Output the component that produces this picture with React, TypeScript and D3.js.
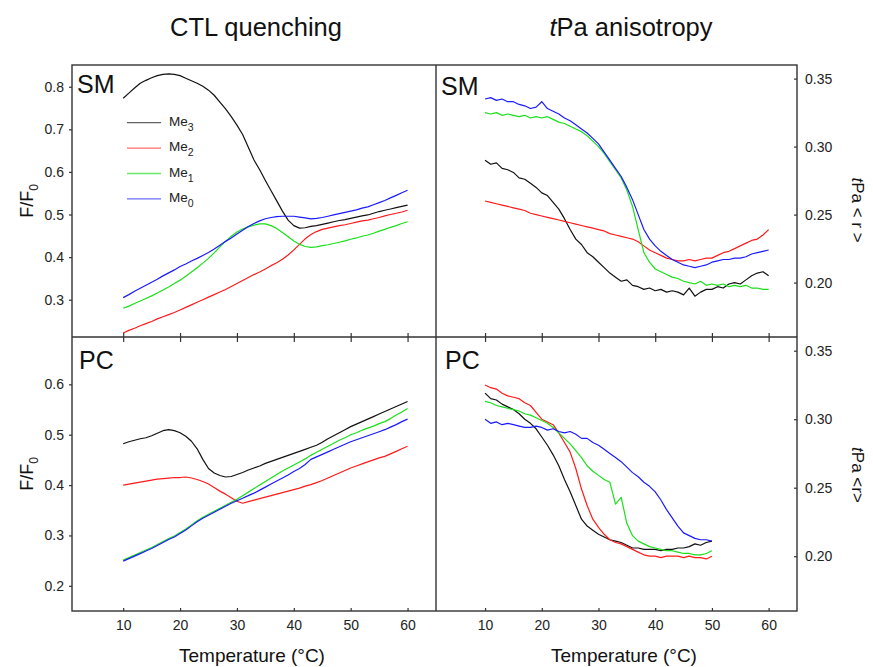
import { useRef, useEffect } from 'react';
import * as d3 from 'd3';

// temperature grid (°C)
const tempsFull = d3.range(10, 61);
const tempsShort = d3.range(10, 51);

// CTL quenching, SM (F/F0)
const smQuenchMe3 = [0.773, 0.785, 0.797, 0.808, 0.815, 0.821, 0.826, 0.829, 0.830, 0.829, 0.826, 0.820, 0.814, 0.808, 0.801, 0.792, 0.780, 0.764, 0.748, 0.730, 0.710, 0.688, 0.658, 0.628, 0.605, 0.580, 0.556, 0.532, 0.508, 0.487, 0.474, 0.468, 0.469, 0.472, 0.474, 0.477, 0.480, 0.483, 0.486, 0.488, 0.491, 0.494, 0.497, 0.499, 0.503, 0.507, 0.510, 0.513, 0.516, 0.519, 0.522];
const smQuenchMe2 = [0.222, 0.228, 0.233, 0.239, 0.244, 0.249, 0.255, 0.260, 0.265, 0.270, 0.276, 0.282, 0.288, 0.294, 0.300, 0.306, 0.312, 0.318, 0.324, 0.331, 0.338, 0.345, 0.352, 0.359, 0.365, 0.372, 0.380, 0.387, 0.395, 0.405, 0.417, 0.430, 0.443, 0.453, 0.460, 0.465, 0.468, 0.471, 0.474, 0.476, 0.479, 0.482, 0.485, 0.487, 0.490, 0.493, 0.497, 0.500, 0.503, 0.506, 0.510];
const smQuenchMe1 = [0.280, 0.285, 0.291, 0.297, 0.303, 0.309, 0.316, 0.323, 0.330, 0.338, 0.346, 0.355, 0.365, 0.375, 0.386, 0.397, 0.410, 0.424, 0.437, 0.449, 0.459, 0.466, 0.471, 0.475, 0.478, 0.478, 0.474, 0.467, 0.458, 0.448, 0.438, 0.430, 0.425, 0.423, 0.424, 0.427, 0.429, 0.432, 0.435, 0.438, 0.442, 0.445, 0.449, 0.452, 0.456, 0.461, 0.465, 0.470, 0.474, 0.479, 0.483];
const smQuenchMe0 = [0.305, 0.312, 0.320, 0.327, 0.334, 0.341, 0.348, 0.356, 0.363, 0.370, 0.378, 0.384, 0.391, 0.397, 0.404, 0.411, 0.419, 0.428, 0.437, 0.445, 0.454, 0.463, 0.472, 0.479, 0.485, 0.490, 0.493, 0.495, 0.496, 0.496, 0.496, 0.494, 0.492, 0.490, 0.491, 0.493, 0.496, 0.499, 0.502, 0.505, 0.508, 0.511, 0.515, 0.518, 0.523, 0.528, 0.533, 0.539, 0.545, 0.551, 0.557];

// CTL quenching, PC (F/F0)
const pcQuenchMe3 = [0.482, 0.486, 0.489, 0.492, 0.494, 0.498, 0.503, 0.508, 0.510, 0.508, 0.504, 0.497, 0.487, 0.472, 0.451, 0.433, 0.424, 0.419, 0.416, 0.417, 0.421, 0.425, 0.430, 0.434, 0.438, 0.443, 0.447, 0.451, 0.455, 0.459, 0.463, 0.467, 0.471, 0.475, 0.479, 0.485, 0.492, 0.498, 0.504, 0.510, 0.516, 0.521, 0.526, 0.531, 0.536, 0.541, 0.546, 0.551, 0.556, 0.561, 0.566];
const pcQuenchMe2 = [0.400, 0.402, 0.404, 0.406, 0.408, 0.410, 0.412, 0.413, 0.414, 0.415, 0.415, 0.416, 0.414, 0.411, 0.407, 0.402, 0.395, 0.388, 0.382, 0.375, 0.368, 0.364, 0.367, 0.370, 0.373, 0.376, 0.379, 0.382, 0.385, 0.388, 0.391, 0.394, 0.398, 0.401, 0.405, 0.409, 0.414, 0.419, 0.424, 0.429, 0.434, 0.438, 0.442, 0.446, 0.450, 0.454, 0.457, 0.462, 0.467, 0.472, 0.477];
const pcQuenchMe1 = [0.251, 0.256, 0.261, 0.266, 0.271, 0.276, 0.282, 0.288, 0.294, 0.299, 0.306, 0.313, 0.321, 0.329, 0.336, 0.342, 0.348, 0.354, 0.360, 0.366, 0.372, 0.379, 0.386, 0.393, 0.400, 0.407, 0.414, 0.421, 0.428, 0.434, 0.440, 0.446, 0.452, 0.459, 0.465, 0.471, 0.477, 0.483, 0.489, 0.494, 0.500, 0.504, 0.509, 0.513, 0.517, 0.522, 0.526, 0.532, 0.539, 0.545, 0.552];
const pcQuenchMe0 = [0.249, 0.254, 0.259, 0.264, 0.269, 0.274, 0.280, 0.286, 0.292, 0.297, 0.304, 0.311, 0.319, 0.327, 0.334, 0.340, 0.346, 0.352, 0.358, 0.364, 0.369, 0.374, 0.379, 0.384, 0.390, 0.396, 0.402, 0.408, 0.414, 0.420, 0.427, 0.433, 0.441, 0.451, 0.456, 0.461, 0.466, 0.471, 0.476, 0.481, 0.486, 0.490, 0.494, 0.498, 0.502, 0.506, 0.510, 0.515, 0.520, 0.526, 0.531];

// tPa anisotropy, SM (<r>)
const smAnisoMe3 = [0.290, 0.287, 0.288, 0.284, 0.283, 0.281, 0.277, 0.276, 0.273, 0.270, 0.266, 0.264, 0.259, 0.254, 0.247, 0.239, 0.232, 0.228, 0.222, 0.219, 0.215, 0.211, 0.207, 0.204, 0.201, 0.202, 0.198, 0.197, 0.195, 0.196, 0.194, 0.195, 0.193, 0.194, 0.193, 0.191, 0.196, 0.190, 0.193, 0.195, 0.195, 0.197, 0.196, 0.199, 0.200, 0.199, 0.202, 0.205, 0.207, 0.208, 0.205];
const smAnisoMe2 = [0.260, 0.259, 0.258, 0.257, 0.256, 0.255, 0.254, 0.253, 0.251, 0.250, 0.249, 0.248, 0.247, 0.246, 0.245, 0.244, 0.243, 0.242, 0.241, 0.240, 0.239, 0.238, 0.236, 0.235, 0.234, 0.233, 0.232, 0.230, 0.227, 0.224, 0.222, 0.220, 0.218, 0.217, 0.216, 0.216, 0.217, 0.216, 0.217, 0.218, 0.218, 0.220, 0.222, 0.223, 0.225, 0.227, 0.229, 0.231, 0.232, 0.235, 0.239];
const smAnisoMe1 = [0.325, 0.324, 0.325, 0.323, 0.324, 0.323, 0.322, 0.323, 0.321, 0.322, 0.321, 0.322, 0.320, 0.318, 0.317, 0.315, 0.313, 0.311, 0.308, 0.304, 0.300, 0.295, 0.289, 0.283, 0.277, 0.268, 0.256, 0.239, 0.222, 0.215, 0.210, 0.208, 0.206, 0.204, 0.203, 0.201, 0.200, 0.199, 0.201, 0.198, 0.199, 0.198, 0.199, 0.197, 0.198, 0.197, 0.198, 0.196, 0.196, 0.195, 0.195];
const smAnisoMe0 = [0.335, 0.336, 0.334, 0.335, 0.333, 0.333, 0.331, 0.330, 0.328, 0.329, 0.333, 0.328, 0.326, 0.324, 0.321, 0.319, 0.316, 0.313, 0.310, 0.306, 0.302, 0.296, 0.290, 0.284, 0.278, 0.270, 0.261, 0.250, 0.239, 0.232, 0.227, 0.223, 0.220, 0.217, 0.215, 0.213, 0.212, 0.211, 0.212, 0.213, 0.215, 0.216, 0.217, 0.217, 0.218, 0.218, 0.219, 0.221, 0.222, 0.223, 0.224];

// tPa anisotropy, PC (<r>), 10-50 °C
const pcAnisoMe3 = [0.319, 0.315, 0.314, 0.311, 0.309, 0.307, 0.304, 0.300, 0.297, 0.293, 0.287, 0.281, 0.274, 0.266, 0.256, 0.247, 0.237, 0.227, 0.222, 0.219, 0.216, 0.214, 0.212, 0.211, 0.210, 0.208, 0.206, 0.206, 0.205, 0.205, 0.205, 0.204, 0.205, 0.205, 0.206, 0.206, 0.207, 0.209, 0.208, 0.210, 0.211];
const pcAnisoMe2 = [0.325, 0.323, 0.322, 0.319, 0.317, 0.316, 0.315, 0.312, 0.310, 0.305, 0.300, 0.298, 0.296, 0.290, 0.283, 0.276, 0.264, 0.249, 0.237, 0.227, 0.221, 0.216, 0.212, 0.210, 0.209, 0.207, 0.205, 0.203, 0.201, 0.200, 0.200, 0.199, 0.200, 0.200, 0.200, 0.199, 0.200, 0.199, 0.199, 0.198, 0.200];
const pcAnisoMe1 = [0.313, 0.312, 0.310, 0.309, 0.308, 0.307, 0.306, 0.304, 0.303, 0.301, 0.299, 0.297, 0.294, 0.290, 0.286, 0.282, 0.277, 0.272, 0.266, 0.262, 0.259, 0.256, 0.254, 0.238, 0.243, 0.224, 0.215, 0.211, 0.209, 0.207, 0.206, 0.205, 0.204, 0.204, 0.203, 0.202, 0.202, 0.201, 0.201, 0.202, 0.204];
const pcAnisoMe0 = [0.300, 0.297, 0.298, 0.296, 0.297, 0.296, 0.295, 0.294, 0.294, 0.295, 0.294, 0.292, 0.293, 0.291, 0.290, 0.291, 0.289, 0.286, 0.286, 0.283, 0.281, 0.278, 0.275, 0.272, 0.269, 0.265, 0.261, 0.258, 0.254, 0.251, 0.247, 0.241, 0.234, 0.228, 0.222, 0.217, 0.215, 0.213, 0.212, 0.212, 0.211];

const seriesNames = ['Me3', 'Me2', 'Me1', 'Me0'];
const seriesColors = ['#111111', '#ff1a1a', '#19e019', '#1a1aff'];
const xTicks = [10, 20, 30, 40, 50, 60];
const quenchTicksSM = [0.3, 0.4, 0.5, 0.6, 0.7, 0.8];
const quenchTicksPC = [0.2, 0.3, 0.4, 0.5, 0.6];
const anisoTicks = [0.2, 0.25, 0.3, 0.35];

const FONT = 'Liberation Sans, Arial, sans-serif';

const App = () => {
  const svgRef = useRef<SVGSVGElement>(null);

  useEffect(() => {
    const svg = d3.select(svgRef.current);
    svg.selectAll('*').remove();

    const left = 72, mid = 436, right = 797;
    const top = 65, middle = 337, bottom = 611;

    const xL = d3.scaleLinear().domain([1, 65]).range([left, mid]);
    const xR = d3.scaleLinear().domain([1.35, 65]).range([mid, right]);
    const yTL = d3.scaleLinear().domain([0.2125, 0.851]).range([middle, top]);
    const yBL = d3.scaleLinear().domain([0.15, 0.694]).range([bottom, middle]);
    const yTR = d3.scaleLinear().domain([0.16, 0.36]).range([middle, top]);
    const yBR = d3.scaleLinear().domain([0.16, 0.36]).range([bottom, middle]);

    const panels = [
      { id: 'tl', x: xL, y: yTL, temps: tempsFull, data: [smQuenchMe3, smQuenchMe2, smQuenchMe1, smQuenchMe0], label: 'SM', lx: 77, ly: 93 },
      { id: 'bl', x: xL, y: yBL, temps: tempsFull, data: [pcQuenchMe3, pcQuenchMe2, pcQuenchMe1, pcQuenchMe0], label: 'PC', lx: 79, ly: 369 },
      { id: 'tr', x: xR, y: yTR, temps: tempsFull, data: [smAnisoMe3, smAnisoMe2, smAnisoMe1, smAnisoMe0], label: 'SM', lx: 441, ly: 95 },
      { id: 'br', x: xR, y: yBR, temps: tempsShort, data: [pcAnisoMe3, pcAnisoMe2, pcAnisoMe1, pcAnisoMe0], label: 'PC', lx: 445, ly: 369 },
    ];

    panels.forEach(p => {
      const [x0, x1] = p.x.range();
      const [y0, y1] = p.y.range();
      svg.append('clipPath').attr('id', `clip-${p.id}`)
        .append('rect').attr('x', x0).attr('y', y1).attr('width', x1 - x0).attr('height', y0 - y1);
      const g = svg.append('g').attr('clip-path', `url(#clip-${p.id})`);
      p.data.forEach((vals, i) => {
        const line = d3.line<number>()
          .x((_, j) => p.x(p.temps[j]))
          .y(d => p.y(d));
        g.append('path')
          .attr('d', line(vals))
          .attr('fill', 'none')
          .attr('stroke', seriesColors[i])
          .attr('stroke-width', 1.2)
          .attr('stroke-linejoin', 'round');
      });
      svg.append('text').attr('x', p.lx).attr('y', p.ly)
        .attr('font-family', FONT).attr('font-size', 25).attr('fill', '#111')
        .text(p.label);
    });

    const styleAxis = (g: any) => {
      g.select('.domain').remove();
      g.selectAll('line').attr('stroke', '#333').attr('stroke-width', 1.2);
      g.selectAll('text').attr('font-family', FONT).attr('font-size', 14).attr('fill', '#222');
    };

    // y axes
    svg.append('g').attr('transform', `translate(${left},0)`)
      .call(d3.axisLeft(yTL).tickValues(quenchTicksSM).tickFormat(d3.format('.1f')).tickSize(3).tickPadding(5))
      .call(styleAxis);
    svg.append('g').attr('transform', `translate(${left},0)`)
      .call(d3.axisLeft(yBL).tickValues(quenchTicksPC).tickFormat(d3.format('.1f')).tickSize(3).tickPadding(5))
      .call(styleAxis);
    svg.append('g').attr('transform', `translate(${right},0)`)
      .call(d3.axisRight(yTR).tickValues(anisoTicks).tickFormat(d3.format('.2f')).tickSize(-3).tickPadding(8))
      .call(styleAxis);
    svg.append('g').attr('transform', `translate(${right},0)`)
      .call(d3.axisRight(yBR).tickValues(anisoTicks).tickFormat(d3.format('.2f')).tickSize(-3).tickPadding(8))
      .call(styleAxis);

    // x axes
    [xL, xR].forEach(x => {
      svg.append('g').attr('transform', `translate(0,${middle})`)
        .call(d3.axisBottom(x).tickValues(xTicks).tickFormat(() => '').tickSize(-4))
        .call(styleAxis);
      svg.append('g').attr('transform', `translate(0,${middle})`)
        .call(d3.axisTop(x).tickValues(xTicks).tickFormat(() => '').tickSize(-5))
        .call(styleAxis);
      svg.append('g').attr('transform', `translate(0,${bottom})`)
        .call(d3.axisBottom(x).tickValues(xTicks).tickFormat(d3.format('d')).tickSize(-3).tickPadding(9))
        .call(styleAxis);
    });

    // frame
    const frame = svg.append('g').attr('stroke', '#333').attr('stroke-width', 1.4).attr('fill', 'none');
    frame.append('rect').attr('x', left).attr('y', top).attr('width', right - left).attr('height', bottom - top);
    frame.append('line').attr('x1', mid).attr('x2', mid).attr('y1', top).attr('y2', bottom);
    frame.append('line').attr('x1', left).attr('x2', right).attr('y1', middle).attr('y2', middle);

    // legend
    const legend = svg.append('g');
    seriesNames.forEach((name, i) => {
      const ly = 122.7 + i * 25.4;
      legend.append('line').attr('x1', 127).attr('x2', 161).attr('y1', ly).attr('y2', ly)
        .attr('stroke', seriesColors[i]).attr('stroke-opacity', 0.65).attr('stroke-width', 1.3);
      const t = legend.append('text').attr('x', 169).attr('y', ly + 3)
        .attr('font-family', FONT).attr('font-size', 13.5).attr('fill', '#222');
      t.append('tspan').text(name.slice(0, 2));
      t.append('tspan').attr('font-size', 10.5).attr('dy', 5).text(name.slice(2));
    });

    // titles
    svg.append('text').attr('x', 256).attr('y', 36).attr('text-anchor', 'middle')
      .attr('font-family', FONT).attr('font-size', 25.5).attr('fill', '#111')
      .text('CTL quenching');
    const t2 = svg.append('text').attr('x', 631).attr('y', 36).attr('text-anchor', 'middle')
      .attr('font-family', FONT).attr('font-size', 25.5).attr('fill', '#111');
    t2.append('tspan').attr('font-style', 'italic').text('t');
    t2.append('tspan').text('Pa anisotropy');

    // x axis titles
    [252, 624].forEach(cx => {
      svg.append('text').attr('x', cx).attr('y', 662).attr('text-anchor', 'middle')
        .attr('font-family', FONT).attr('font-size', 19).attr('fill', '#111')
        .text('Temperature (°C)');
    });

    // left y titles
    [(top + middle) / 2, (middle + bottom) / 2].forEach(cy => {
      const t = svg.append('text').attr('transform', `translate(33,${cy}) rotate(-90)`)
        .attr('text-anchor', 'middle').attr('font-family', FONT).attr('font-size', 18).attr('fill', '#111');
      t.append('tspan').text('F/F');
      t.append('tspan').attr('font-size', 12).attr('dy', 5).text('0');
    });

    // right y titles
    [[210, 'Pa < r >'], [475, 'Pa <r>']].forEach(([cy, rest]) => {
      const t = svg.append('text').attr('transform', `translate(852,${cy}) rotate(90)`)
        .attr('text-anchor', 'middle').attr('font-family', FONT).attr('font-size', 17).attr('fill', '#111');
      t.append('tspan').attr('font-style', 'italic').text('t');
      t.append('tspan').text(rest as string);
    });
  }, []);

  return (
    <svg ref={svgRef} width={873} height={667}
      style={{ position: 'absolute', left: 0, top: 0, background: '#fff' }} />
  );
};

export default App;
